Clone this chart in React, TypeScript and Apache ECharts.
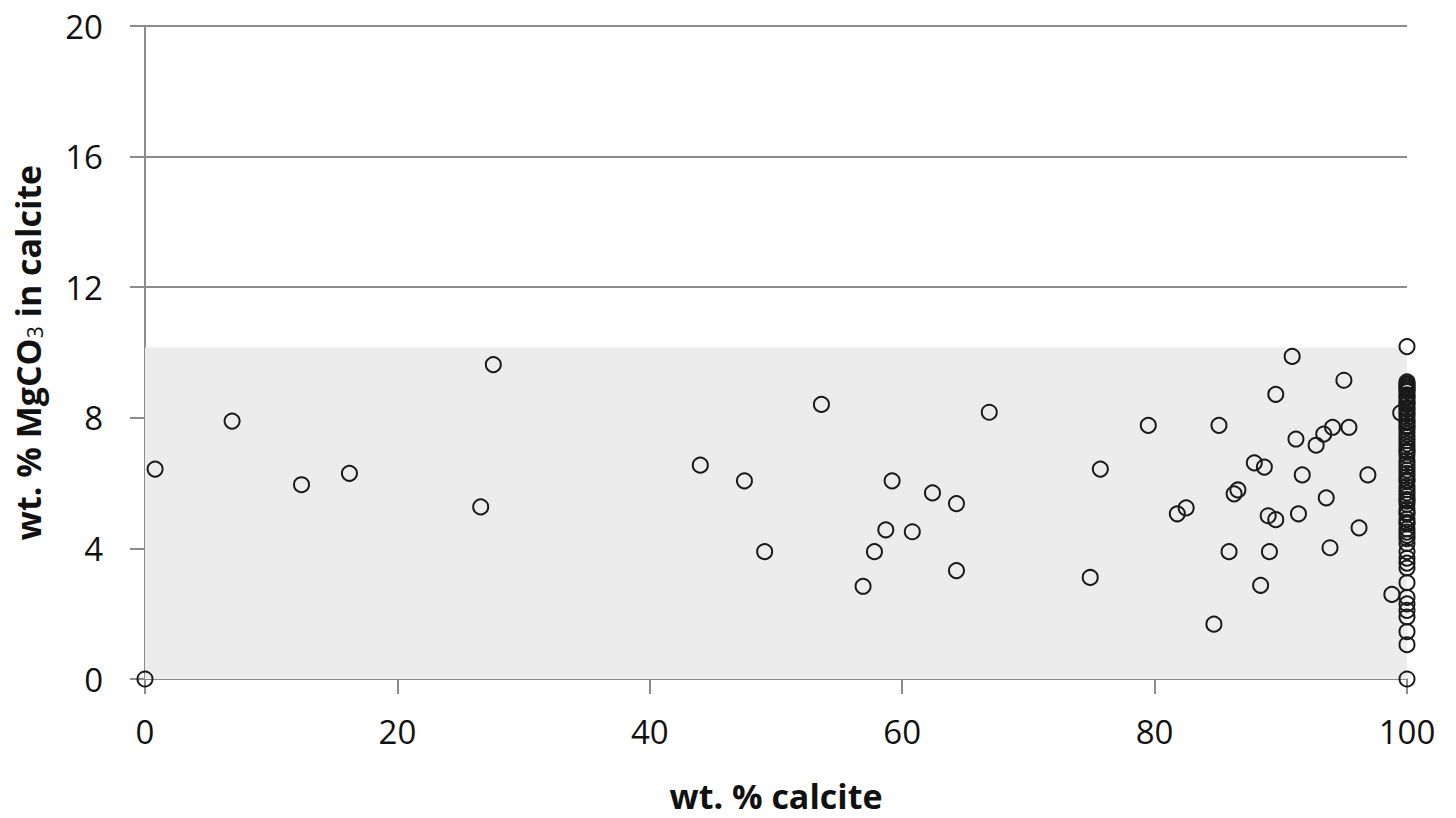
import React, { useEffect, useRef } from "react";
import * as echarts from "echarts";

// wt. % calcite (x) and wt. % MgCO3 in calcite (y) — mixed samples
const calciteX = [
  0, 0.8, 6.9, 12.4, 16.2, 26.6, 27.6, 44.0, 47.5, 49.1, 53.6, 56.9, 57.8, 58.7, 59.2,
  60.8, 62.4, 64.3, 64.3, 66.9, 74.9, 75.7, 79.5, 81.8, 82.5, 84.7, 85.1, 85.9, 86.3,
  86.6, 87.9, 88.4, 88.7, 89.0, 89.1, 89.6, 89.6, 90.9, 91.2, 91.4, 91.7, 92.8, 93.4,
  93.6, 93.9, 94.1, 95.0, 95.4, 96.2, 96.9, 98.8, 99.5,
];
const mgco3Y = [
  0, 6.43, 7.9, 5.95, 6.3, 5.27, 9.63, 6.55, 6.07, 3.9, 8.41, 2.84, 3.9, 4.57, 6.07,
  4.51, 5.7, 5.37, 3.32, 8.17, 3.11, 6.43, 7.77, 5.06, 5.24, 1.68, 7.77, 3.9, 5.67,
  5.79, 6.62, 2.87, 6.49, 5.0, 3.9, 4.88, 8.72, 9.88, 7.35, 5.06, 6.25, 7.16, 7.5,
  5.55, 4.02, 7.71, 9.15, 7.71, 4.63, 6.25, 2.59, 8.15,
];
// pure calcite samples (x = 100)
const pureCalciteY = [
  10.18, 9.1, 9.05, 9.0, 8.95, 8.9, 8.85, 8.8, 8.7, 8.65, 8.6, 8.5, 8.45, 8.4, 8.3,
  8.25, 8.15, 8.1, 8.0, 7.9, 7.85, 7.75, 7.7, 7.6, 7.5, 7.4, 7.3, 7.2, 7.1, 7.0, 6.95,
  6.85, 6.7, 6.6, 6.5, 6.4, 6.3, 6.2, 6.1, 6.05, 5.9, 5.8, 5.7, 5.6, 5.5, 5.45, 5.35,
  5.2, 5.1, 5.05, 4.9, 4.8, 4.75, 4.6, 4.5, 4.4, 4.3, 4.15, 3.9, 3.7, 3.55, 3.4, 2.95,
  2.5, 2.3, 2.1, 1.9, 1.45, 1.05, 0,
];
const pureCalciteX = 100;

const xTicks = [0, 20, 40, 60, 80, 100];
const yTicks = [0, 4, 8, 12, 16, 20];
const shadedRange = { x0: 0, x1: 100, y0: 0, y1: 10.15 };

export default function App() {
  const ref = useRef<HTMLDivElement>(null);
  useEffect(() => {
    if (!ref.current) return;
    const chart = echarts.init(ref.current, null, { renderer: "svg" });
    const points: number[][] = calciteX.map((x, i) => [x, mgco3Y[i]]);
    pureCalciteY.forEach((y) => points.push([pureCalciteX, y]));
    const font = "Open Sans";
    chart.setOption({
      animation: false,
      backgroundColor: "#ffffff",
      grid: { left: 145, right: 49, top: 26, bottom: 136, containLabel: false },
      xAxis: {
        type: "value",
        min: xTicks[0],
        max: xTicks[xTicks.length - 1],
        interval: 20,
        name: "wt. % calcite",
        nameLocation: "middle",
        nameGap: 100,
        nameTextStyle: { fontFamily: font, fontWeight: "bold", fontSize: 34, color: "#111" },
        axisLine: { show: true, lineStyle: { color: "#8c8c8c", width: 2 } },
        axisTick: { show: true, length: 15, inside: false, lineStyle: { color: "#8c8c8c", width: 2 } },
        axisLabel: { margin: 36, fontFamily: font, fontSize: 33, color: "#111" },
        splitLine: { show: false },
      },
      yAxis: {
        type: "value",
        min: yTicks[0],
        max: yTicks[yTicks.length - 1],
        interval: 4,
        name: "wt. % MgCO{sub|3} in calcite",
        nameLocation: "middle",
        nameGap: 100,
        nameRotate: 90,
        nameTextStyle: {
          fontFamily: font,
          fontWeight: "bold",
          fontSize: 34,
          color: "#111",
          rich: {
            sub: {
              fontFamily: font,
              fontWeight: "normal",
              fontSize: 21,
              color: "#111",
              verticalAlign: "bottom",
              lineHeight: 24,
              padding: [14, 0, 0, 0],
            },
          },
        },
        axisLine: { show: true, lineStyle: { color: "#8c8c8c", width: 2 } },
        axisTick: { show: true, length: 15, inside: false, lineStyle: { color: "#8c8c8c", width: 2 } },
        axisLabel: { margin: 42, fontFamily: font, fontSize: 33, color: "#111" },
        splitLine: { show: true, lineStyle: { color: "#8c8c8c", width: 2 } },
      },
      series: [
        {
          type: "scatter",
          data: points,
          symbol: "circle",
          symbolSize: 15,
          itemStyle: { color: "rgba(0,0,0,0)", borderColor: "#1a1a1a", borderWidth: 2, opacity: 1 },
          z: 3,
          markArea: {
            silent: true,
            itemStyle: { color: "#ececec" },
            data: [
              [
                { xAxis: shadedRange.x0, yAxis: shadedRange.y0 },
                { xAxis: shadedRange.x1, yAxis: shadedRange.y1 },
              ],
            ],
          },
        },
      ],
    });
    return () => chart.dispose();
  }, []);
  return <div ref={ref} style={{ width: 1456, height: 818, position: "fixed", left: 0, top: 0 }} />;
}
